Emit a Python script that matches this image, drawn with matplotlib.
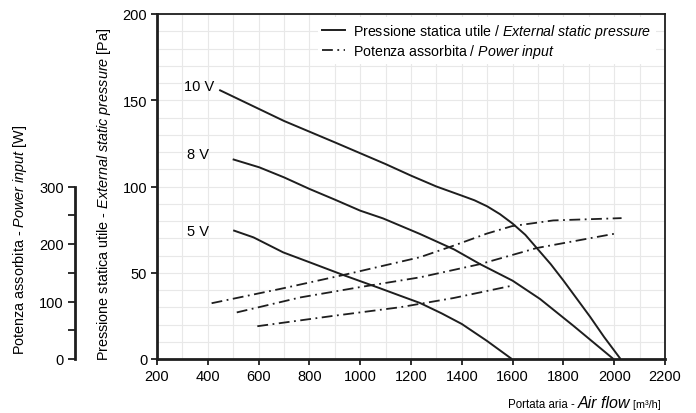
import matplotlib
matplotlib.use('Agg')
import matplotlib.pyplot as plt
from matplotlib.lines import Line2D
from matplotlib.ticker import MultipleLocator, FixedLocator
from matplotlib import font_manager

names = {f.name for f in font_manager.fontManager.ttflist}
FONT = 'Liberation Sans Narrow' if 'Liberation Sans Narrow' in names else 'Liberation Sans'
plt.rcParams['font.family'] = [FONT, 'DejaVu Sans']
plt.rcParams['mathtext.fontset'] = 'custom'
plt.rcParams['mathtext.rm'] = FONT
plt.rcParams['mathtext.it'] = FONT + ':italic'

INK = '#1e1e1e'

# pressure curves: air flow [m3/h] -> external static pressure [Pa]
flow_10v = [445, 700, 900, 1100, 1200, 1300, 1400, 1450, 1500, 1550, 1600, 1650, 1700,
            1750, 1800, 1850, 1905, 1960, 2025]
pres_10v = [156, 138, 125.6, 113, 106.3, 100, 94.7, 92, 88.5, 84, 78.5, 72, 63.5,
            55, 45.5, 35.5, 24.5, 12.8, 0]

flow_8v = [498, 603, 700, 800, 900, 1000, 1090, 1235, 1370, 1472, 1600, 1708, 1839, 1997]
pres_8v = [115.8, 111.1, 105.3, 98.6, 92.4, 86, 81.5, 72.5, 63.5, 55, 45.4, 34.8, 19.3, 0]

flow_5v = [500, 580, 697, 802, 933, 1078, 1157, 1235, 1320, 1400, 1498, 1597]
pres_5v = [74.6, 70.5, 61.8, 56, 48.7, 41, 36.7, 32.5, 26.5, 20.3, 10.6, 0]

# power curves: air flow [m3/h] -> power input [W]
pflow_10v = [415, 697, 933, 1235, 1367, 1498, 1597, 1760, 2029]
power_10v = [97, 123, 146, 177, 197, 218, 231, 241, 245]

pflow_8v = [514, 763, 999, 1235, 1472, 1695, 2003]
power_8v = [81, 107, 125, 142, 165, 193, 218]

pflow_5v = [595, 894, 1157, 1367, 1603]
power_5v = [57, 75, 90, 106, 128]

fig = plt.figure(figsize=(6.96, 4.14), dpi=100)
ax = fig.add_axes([157/696, 54/414, 508/696, 345/414])
ax.set_xlim(200, 2200)
ax.set_ylim(0, 200)
ax.xaxis.set_major_locator(MultipleLocator(200))
ax.xaxis.set_minor_locator(MultipleLocator(100))
ax.yaxis.set_major_locator(MultipleLocator(50))
ax.yaxis.set_minor_locator(MultipleLocator(10))
ax.grid(which='both', color='#e8e8e8', lw=0.8)
ax.set_axisbelow(True)
ax.tick_params(which='minor', length=0)
ax.tick_params(which='major', length=4, width=1.3, color=INK, labelsize=10.5, pad=3)
for s in ['left', 'bottom']:
    ax.spines[s].set_linewidth(2)
    ax.spines[s].set_color(INK)
for s in ['top', 'right']:
    ax.spines[s].set_linewidth(1.3)
    ax.spines[s].set_color(INK)

for fl, pr in [(flow_10v, pres_10v), (flow_8v, pres_8v), (flow_5v, pres_5v)]:
    ax.plot(fl, pr, color=INK, lw=1.4, solid_capstyle='butt', solid_joinstyle='round')

ax.text(366, 158, '10 V', ha='center', va='center', fontsize=10.5)
ax.text(360, 119, '8 V', ha='center', va='center', fontsize=10.5)
ax.text(362, 74, '5 V', ha='center', va='center', fontsize=10.5)

# secondary power scale on the left
ax2 = ax.twinx()
ax2.set_ylim(0, 600)
ax2.yaxis.tick_left()
for s in ['top', 'right', 'bottom']:
    ax2.spines[s].set_visible(False)
ax2.spines['left'].set_position(('outward', 59))
ax2.spines['left'].set_bounds(0, 300)
ax2.spines['left'].set_linewidth(2)
ax2.spines['left'].set_color(INK)
ax2.yaxis.set_major_locator(FixedLocator([0, 100, 200, 300]))
ax2.yaxis.set_minor_locator(FixedLocator([50, 150, 250]))
ax2.tick_params(which='both', length=5, width=1.3, color=INK, labelsize=10.5, pad=3)

dash = (0, (6, 2.5, 1, 2.5))
for fl, pw in [(pflow_10v, power_10v), (pflow_8v, power_8v), (pflow_5v, power_5v)]:
    ax2.plot(fl, pw, color=INK, lw=1.3, ls=dash)

handles = [Line2D([], [], color=INK, lw=1.4),
           Line2D([], [], color=INK, lw=1.3, ls=dash)]
labels = [r'Pressione statica utile / $\mathit{External\ static\ pressure}$',
          r'Potenza assorbita / $\mathit{Power\ input}$']
leg = ax2.legend(handles, labels, loc='upper right', bbox_to_anchor=(0.982, 0.99),
                 fontsize=10.2, frameon=True, fancybox=False, framealpha=1,
                 handlelength=1.6, handletextpad=0.6, labelspacing=0.15,
                 borderpad=0.3, borderaxespad=0)
leg.get_frame().set_edgecolor('none')

fig.text(104.5/696, (414-194)/414,
         r'Pressione statica utile - $\mathit{External\ static\ pressure}$ [Pa]',
         rotation=90, ha='center', va='center', fontsize=10.4)
fig.text(20.5/696, (414-240)/414,
         r'Potenza assorbita - $\mathit{Power\ input}$ [W]',
         rotation=90, ha='center', va='center', fontsize=10.4)

# x label built from pieces of different size
renderer = fig.canvas.get_renderer()
pieces = [('Portata aria - ', 8.3, 'normal'), ('Air flow', 11.5, 'italic'), (' [m³/h]', 7.8, 'normal')]
x = 661/696
for txt, size, style in reversed(pieces):
    t = fig.text(x, (414-408)/414, txt, ha='right', va='baseline', fontsize=size, style=style)
    x = t.get_window_extent(renderer).x0 / 696

fig.savefig('out.png', dpi=100)
